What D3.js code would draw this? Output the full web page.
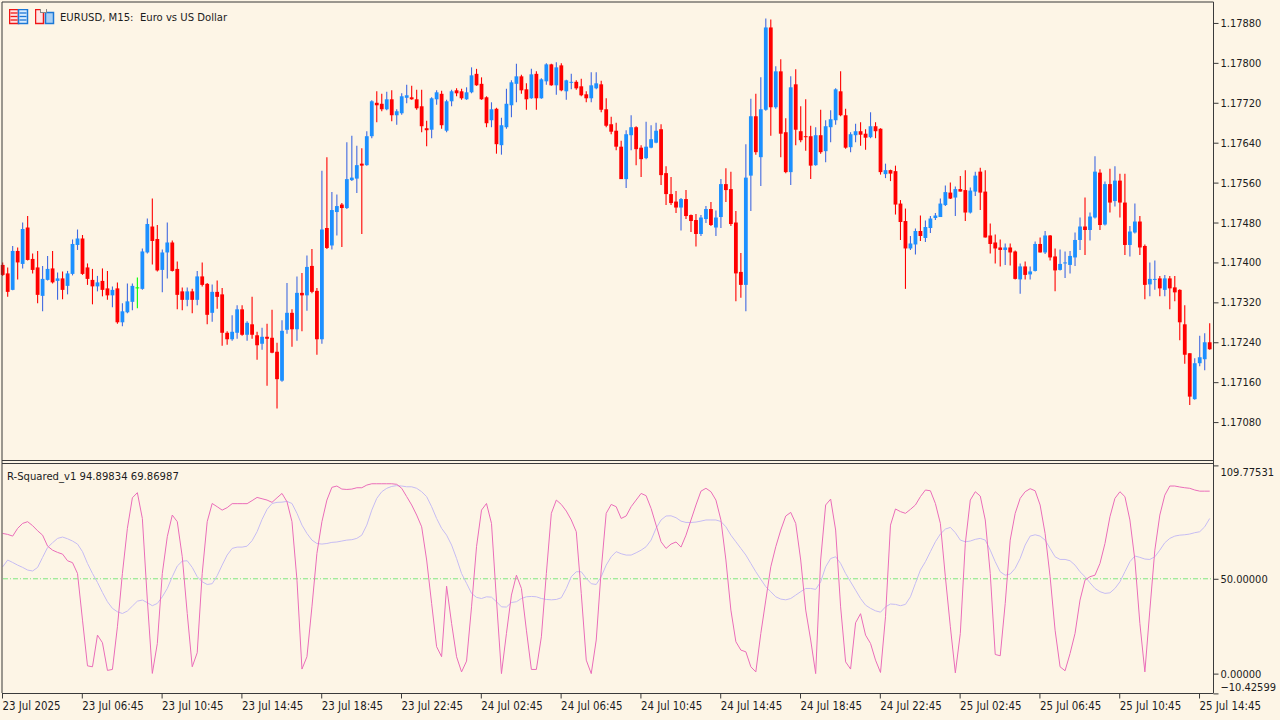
<!DOCTYPE html>
<html>
<head>
<meta charset="utf-8">
<title>EURUSD M15</title>
<script src="https://cdn.jsdelivr.net/npm/d3@7"></script>
<style>
	html, body { margin: 0; padding: 0; background: #FDF5E6; }
	svg { display: block; }
	text { font-family: "DejaVu Sans Condensed", "DejaVu Sans", sans-serif; fill: #1c1c1c; }
</style>
</head>
<body>
<div id="vizContainer"></div>
<script>
let w = 1280;
let h = 720;

let opens = [
	1.17395,1.17378,1.17345,1.17423,1.17397,1.17470,1.17407,1.17390,1.17333,1.17365,
	1.17388,1.17363,1.17368,1.17353,1.17377,1.17435,1.17448,1.17390,1.17365,1.17352,
	1.17363,1.17348,1.17334,1.17348,1.17280,1.17300,1.17321,1.17350,1.17347,1.17420,
	1.17472,1.17447,1.17385,1.17420,1.17440,1.17387,1.17342,1.17325,1.17342,1.17325,
	1.17372,1.17357,1.17299,1.17341,1.17336,1.17259,1.17246,1.17259,1.17306,1.17255,
	1.17276,1.17254,1.17237,1.17251,1.17249,1.17221,1.17163,1.17265,1.17299,1.17266,
	1.17339,1.17334,1.17393,1.17343,1.17246,1.17469,1.17434,1.17501,1.17516,1.17509,
	1.17565,1.17568,1.17598,1.17595,1.17653,1.17720,1.17718,1.17707,1.17727,1.17695,
	1.17699,1.17730,1.17731,1.17727,1.17713,1.17669,1.17666,1.17727,1.17738,1.17664,
	1.17723,1.17745,1.17743,1.17727,1.17741,1.17778,1.17758,1.17731,1.17685,1.17708,
	1.17635,1.17671,1.17715,1.17758,1.17773,1.17747,1.17729,1.17778,1.17729,1.17763,
	1.17797,1.17755,1.17795,1.17743,1.17760,1.17762,1.17753,1.17737,1.17729,1.17749,
	1.17757,1.17707,1.17677,1.17664,1.17632,1.17567,1.17655,1.17671,1.17630,1.17609,
	1.17630,1.17640,1.17667,1.17579,1.17537,1.17522,1.17510,1.17527,1.17495,1.17485,
	1.17457,1.17487,1.17507,1.17470,1.17491,1.17557,1.17547,1.17480,1.17381,1.17355,
	1.17574,1.17693,1.17611,1.17706,1.17871,1.17711,1.17783,1.17661,1.17581,1.17757,
	1.17663,1.17653,1.17653,1.17595,1.17655,1.17623,1.17671,1.17685,1.17743,1.17695,
	1.17631,1.17655,1.17663,1.17658,1.17651,1.17673,1.17668,1.17577,1.17585,1.17583,
	1.17518,1.17483,1.17428,1.17436,1.17463,1.17449,1.17469,1.17489,1.17491,1.17515,
	1.17540,1.17530,1.17547,1.17545,1.17500,1.17542,1.17582,1.17542,1.17454,1.17440,
	1.17430,1.17425,1.17430,1.17422,1.17366,1.17392,1.17376,1.17383,1.17437,1.17420,
	1.17454,1.17412,1.17385,1.17398,1.17395,1.17410,1.17445,1.17472,1.17465,1.17490,
	1.17580,1.17476,1.17557,1.17523,1.17564,1.17520,1.17435,1.17460,1.17482,1.17433,
	1.17356,1.17365,1.17368,1.17345,1.17368,1.17350,1.17345,1.17276,1.17218,1.17126,
	1.17198,1.17206,1.17240
];
let highs = [
	1.17400,1.17390,1.17433,1.17430,1.17480,1.17493,1.17418,1.17423,1.17393,1.17413,
	1.17423,1.17380,1.17382,1.17383,1.17446,1.17466,1.17455,1.17398,1.17387,1.17373,
	1.17388,1.17383,1.17352,1.17360,1.17318,1.17358,1.17358,1.17370,1.17428,1.17488,
	1.17528,1.17475,1.17426,1.17480,1.17444,1.17402,1.17350,1.17350,1.17347,1.17383,
	1.17400,1.17359,1.17356,1.17364,1.17349,1.17262,1.17294,1.17314,1.17314,1.17282,
	1.17331,1.17261,1.17269,1.17277,1.17305,1.17239,1.17284,1.17359,1.17306,1.17372,
	1.17379,1.17414,1.17427,1.17349,1.17584,1.17611,1.17541,1.17536,1.17519,1.17641,
	1.17654,1.17634,1.17629,1.17663,1.17725,1.17743,1.17738,1.17742,1.17745,1.17707,
	1.17739,1.17756,1.17754,1.17746,1.17746,1.17684,1.17731,1.17745,1.17744,1.17726,
	1.17746,1.17749,1.17748,1.17751,1.17791,1.17788,1.17771,1.17733,1.17721,1.17710,
	1.17690,1.17748,1.17765,1.17798,1.17776,1.17759,1.17788,1.17783,1.17769,1.17799,
	1.17798,1.17801,1.17799,1.17766,1.17778,1.17765,1.17768,1.17743,1.17781,1.17781,
	1.17764,1.17729,1.17692,1.17680,1.17644,1.17665,1.17695,1.17673,1.17635,1.17682,
	1.17675,1.17680,1.17677,1.17593,1.17571,1.17543,1.17529,1.17545,1.17496,1.17497,
	1.17495,1.17513,1.17521,1.17504,1.17567,1.17589,1.17582,1.17503,1.17419,1.17637,
	1.17728,1.17738,1.17771,1.17889,1.17887,1.17793,1.17807,1.17689,1.17773,1.17787,
	1.17713,1.17727,1.17674,1.17671,1.17706,1.17685,1.17705,1.17749,1.17783,1.17708,
	1.17661,1.17678,1.17681,1.17667,1.17701,1.17681,1.17669,1.17598,1.17586,1.17594,
	1.17525,1.17508,1.17453,1.17468,1.17494,1.17484,1.17493,1.17499,1.17528,1.17554,
	1.17560,1.17552,1.17573,1.17585,1.17550,1.17582,1.17590,1.17585,1.17478,1.17456,
	1.17446,1.17438,1.17438,1.17424,1.17398,1.17402,1.17392,1.17442,1.17450,1.17463,
	1.17455,1.17428,1.17426,1.17422,1.17423,1.17460,1.17490,1.17530,1.17500,1.17613,
	1.17587,1.17562,1.17588,1.17593,1.17578,1.17578,1.17473,1.17518,1.17493,1.17436,
	1.17400,1.17404,1.17373,1.17375,1.17373,1.17373,1.17346,1.17314,1.17218,1.17208,
	1.17253,1.17258,1.17278
];
let lows = [
	1.17373,1.17331,1.17344,1.17366,1.17388,1.17404,1.17378,1.17318,1.17302,1.17364,
	1.17358,1.17325,1.17326,1.17336,1.17374,1.17425,1.17375,1.17355,1.17316,1.17342,
	1.17332,1.17325,1.17310,1.17277,1.17272,1.17298,1.17304,1.17308,1.17345,1.17418,
	1.17396,1.17382,1.17340,1.17368,1.17382,1.17306,1.17304,1.17312,1.17298,1.17314,
	1.17352,1.17276,1.17281,1.17307,1.17233,1.17235,1.17243,1.17247,1.17253,1.17243,
	1.17247,1.17205,1.17225,1.17153,1.17218,1.17107,1.17161,1.17257,1.17231,1.17243,
	1.17262,1.17303,1.17338,1.17215,1.17237,1.17427,1.17426,1.17454,1.17431,1.17507,
	1.17563,1.17539,1.17457,1.17594,1.17649,1.17681,1.17703,1.17705,1.17683,1.17676,
	1.17696,1.17719,1.17726,1.17706,1.17661,1.17633,1.17649,1.17716,1.17668,1.17661,
	1.17713,1.17733,1.17726,1.17726,1.17739,1.17754,1.17726,1.17671,1.17671,1.17618,
	1.17616,1.17668,1.17691,1.17721,1.17738,1.17706,1.17728,1.17706,1.17728,1.17756,
	1.17754,1.17736,1.17743,1.17726,1.17747,1.17746,1.17733,1.17721,1.17721,1.17747,
	1.17701,1.17671,1.17657,1.17625,1.17567,1.17549,1.17625,1.17595,1.17571,1.17607,
	1.17629,1.17639,1.17555,1.17515,1.17515,1.17499,1.17464,1.17487,1.17461,1.17432,
	1.17453,1.17479,1.17473,1.17453,1.17469,1.17521,1.17473,1.17322,1.17329,1.17302,
	1.17503,1.17616,1.17553,1.17704,1.17654,1.17708,1.17611,1.17579,1.17555,1.17635,
	1.17641,1.17624,1.17567,1.17594,1.17618,1.17601,1.17641,1.17676,1.17693,1.17628,
	1.17621,1.17641,1.17634,1.17626,1.17649,1.17649,1.17576,1.17569,1.17563,1.17496,
	1.17445,1.17347,1.17425,1.17416,1.17443,1.17441,1.17459,1.17485,1.17491,1.17513,
	1.17527,1.17493,1.17542,1.17483,1.17498,1.17533,1.17505,1.17450,1.17418,1.17398,
	1.17392,1.17395,1.17394,1.17366,1.17337,1.17366,1.17366,1.17382,1.17420,1.17417,
	1.17404,1.17342,1.17384,1.17369,1.17378,1.17393,1.17425,1.17415,1.17444,1.17488,
	1.17465,1.17474,1.17500,1.17512,1.17490,1.17415,1.17412,1.17458,1.17415,1.17326,
	1.17332,1.17345,1.17332,1.17332,1.17306,1.17322,1.17244,1.17197,1.17114,1.17125,
	1.17192,1.17184,1.17225
];
let closes = [
	1.17375,1.17341,1.17423,1.17400,1.17467,1.17405,1.17385,1.17335,1.17367,1.17387,
	1.17360,1.17368,1.17345,1.17378,1.17437,1.17448,1.17377,1.17367,1.17352,1.17360,
	1.17345,1.17334,1.17345,1.17280,1.17302,1.17322,1.17353,1.17350,1.17422,1.17477,
	1.17443,1.17384,1.17420,1.17440,1.17383,1.17335,1.17325,1.17342,1.17325,1.17372,
	1.17355,1.17295,1.17341,1.17331,1.17259,1.17246,1.17261,1.17306,1.17255,1.17279,
	1.17255,1.17234,1.17251,1.17247,1.17219,1.17166,1.17263,1.17299,1.17266,1.17339,
	1.17334,1.17391,1.17341,1.17246,1.17466,1.17429,1.17505,1.17513,1.17509,1.17567,
	1.17570,1.17595,1.17594,1.17653,1.17723,1.17715,1.17707,1.17727,1.17695,1.17703,
	1.17733,1.17735,1.17727,1.17709,1.17673,1.17665,1.17729,1.17741,1.17675,1.17723,
	1.17743,1.17739,1.17729,1.17741,1.17775,1.17755,1.17727,1.17679,1.17707,1.17637,
	1.17675,1.17718,1.17761,1.17773,1.17745,1.17727,1.17777,1.17729,1.17767,1.17797,
	1.17755,1.17791,1.17745,1.17765,1.17762,1.17749,1.17735,1.17729,1.17755,1.17759,
	1.17706,1.17674,1.17662,1.17632,1.17567,1.17657,1.17671,1.17627,1.17607,1.17632,
	1.17647,1.17664,1.17575,1.17537,1.17519,1.17510,1.17527,1.17493,1.17483,1.17457,
	1.17490,1.17507,1.17475,1.17490,1.17557,1.17545,1.17477,1.17378,1.17355,1.17570,
	1.17693,1.17621,1.17707,1.17871,1.17711,1.17783,1.17658,1.17581,1.17751,1.17666,
	1.17645,1.17651,1.17594,1.17655,1.17621,1.17673,1.17687,1.17747,1.17695,1.17630,
	1.17657,1.17663,1.17656,1.17650,1.17673,1.17663,1.17581,1.17585,1.17578,1.17516,
	1.17481,1.17428,1.17438,1.17463,1.17453,1.17471,1.17488,1.17494,1.17518,1.17541,
	1.17528,1.17547,1.17542,1.17500,1.17544,1.17574,1.17540,1.17450,1.17437,1.17428,
	1.17425,1.17430,1.17420,1.17367,1.17392,1.17375,1.17382,1.17437,1.17420,1.17454,
	1.17410,1.17384,1.17397,1.17400,1.17413,1.17445,1.17472,1.17465,1.17492,1.17582,
	1.17475,1.17557,1.17520,1.17564,1.17520,1.17435,1.17462,1.17482,1.17430,1.17355,
	1.17367,1.17367,1.17348,1.17368,1.17348,1.17340,1.17280,1.17215,1.17131,1.17198,
	1.17210,1.17240,1.17226
];

// r-squared indicator, one value per bar
let rSquared = [
	73.9,73.4,72.5,76.6,79.2,80.1,78.0,75.3,73.0,67.2,
	65.1,63.9,63.0,59.5,58.5,52.8,28.2,4.1,3.6,20.3,
	16.3,1.7,2.2,24.7,52.8,76.6,92.7,95.4,81.8,38.8,
	0.1,15.9,52.8,72.2,83.6,80.1,61.6,31.7,3.6,11.0,
	52.8,80.1,89.7,88.0,86.2,87.5,89.6,89.6,89.6,89.6,
	91.2,92.9,92.2,91.5,90.3,92.7,95.0,90.6,80.1,49.3,
	2.4,8.9,35.2,63.4,80.1,91.5,98.2,98.9,97.3,97.1,
	97.3,98.0,98.0,99.4,100.1,100.1,100.1,100.1,100.1,99.8,
	97.7,93.3,88.9,83.6,77.4,59.9,37.0,14.2,8.9,46.1,
	26.5,8.9,0.9,6.6,35.2,66.9,86.2,89.7,79.2,38.8,
	0.0,21.2,41.4,51.9,44.9,22.9,2.2,2.2,19.4,52.8,
	84.5,91.5,89.2,85.7,81.0,74.8,42.3,7.1,0.0,17.7,
	54.6,84.5,89.2,88.0,81.8,83.1,88.0,91.5,95.0,93.8,
	87.1,78.3,69.5,66.0,68.3,69.4,66.7,73.0,81.0,88.9,
	96.2,97.7,95.9,91.5,81.0,59.9,33.5,16.8,12.4,11.5,
	3.6,0.9,21.2,38.8,56.3,66.9,75.7,83.1,85.0,79.2,
	59.9,33.5,17.7,0.0,59.9,88.9,92.0,75.7,35.2,6.2,
	2.4,26.8,31.6,20.3,15.9,7.1,0.6,30.0,78.3,86.8,
	85.4,84.5,86.6,88.9,93.3,96.8,96.4,89.7,79.2,51.1,
	24.7,0.4,21.2,68.6,91.5,95.9,93.6,81.0,52.8,10.1,
	9.4,37.0,70.4,84.5,92.4,95.9,97.5,96.4,88.9,73.9,
	51.1,22.9,3.6,1.5,10.6,21.2,38.8,49.3,51.1,51.9,
	58.1,68.6,82.7,92.4,95.9,93.3,81.0,59.9,26.5,0.9,
	33.5,65.1,83.6,94.1,98.9,98.9,98.4,98.0,97.7,96.8,
	96.2,96.2,96.2
];
let signalLine = [
	56.3,59.9,58.6,57.2,56.0,54.6,54.1,56.0,61.3,66.5,
	69.0,71.3,72.0,71.1,69.9,68.3,64.3,58.1,52.8,48.1,
	42.8,37.9,34.4,32.6,31.7,33.0,35.6,38.2,38.8,37.4,
	35.8,37.0,40.5,44.9,51.1,56.7,59.3,59.5,56.0,51.1,
	48.4,47.0,47.4,51.6,57.2,62.5,66.0,66.7,66.7,67.2,
	70.1,74.8,81.3,86.6,89.7,90.3,90.4,90.8,89.7,84.5,
	78.3,73.9,70.4,68.6,68.3,68.6,69.2,69.4,69.9,70.4,
	70.6,71.3,73.0,78.3,86.2,92.4,95.9,97.7,98.7,99.1,
	98.9,98.5,98.5,97.7,95.9,93.3,88.0,81.8,76.6,73.0,
	67.8,60.7,52.8,47.6,42.3,40.2,39.6,40.5,40.3,37.9,
	35.2,35.1,37.5,37.9,39.6,40.5,40.7,40.5,39.6,39.1,
	38.9,39.1,40.0,44.9,51.1,53.7,53.7,50.2,47.4,47.0,
	51.1,57.2,61.6,64.3,63.2,62.5,62.5,63.7,65.1,66.9,
	70.4,76.6,81.0,83.1,83.2,82.2,80.4,79.7,79.7,79.9,
	80.4,81.0,81.0,81.0,80.2,77.4,73.0,69.5,66.0,62.5,
	58.1,53.7,49.7,45.8,43.2,40.5,39.3,38.9,39.6,41.4,
	43.2,44.9,44.9,44.4,48.4,56.3,60.7,61.6,58.1,52.8,
	48.4,44.0,39.6,36.1,34.4,33.1,32.4,35.2,36.7,36.5,
	35.8,36.5,40.5,47.6,54.6,59.0,64.3,69.5,73.6,76.2,
	77.1,74.3,70.4,69.5,69.9,70.8,71.3,70.4,65.1,59.0,
	53.7,51.9,52.5,55.5,60.7,67.8,72.5,73.2,72.5,70.4,
	66.0,61.6,60.2,60.2,59.5,57.2,53.7,51.1,47.9,44.9,
	43.2,42.3,42.6,44.9,48.4,53.7,59.0,62.0,61.3,60.4,
	60.2,61.6,65.1,69.0,71.3,72.5,73.0,73.2,73.6,74.3,
	74.8,77.4,81.8
];

let priceTicks = [1.1788, 1.178, 1.1772, 1.1764, 1.1756, 1.1748, 1.174, 1.1732, 1.1724, 1.1716, 1.1708];
let indicatorTicks = [109.77531, 50, 0, -10.42599];
let timeTickBars = [0, 16, 32, 48, 64, 80, 96, 112, 128, 144, 160, 176, 192, 208, 224, 240];
let timeTickLabels = [
	"23 Jul 2025", "23 Jul 06:45", "23 Jul 10:45", "23 Jul 14:45", "23 Jul 18:45", "23 Jul 22:45",
	"24 Jul 02:45", "24 Jul 06:45", "24 Jul 10:45", "24 Jul 14:45", "24 Jul 18:45", "24 Jul 22:45",
	"25 Jul 02:45", "25 Jul 06:45", "25 Jul 10:45", "25 Jul 14:45"
];

let viz = d3.select('#vizContainer').append('svg')
	.attr('width', w)
	.attr('height', h)
	.style('background-color', '#FDF5E6')
	;

// the reference is a slightly soft screenshot
viz.append('filter').attr('id', 'soft')
	.attr('filterUnits', 'userSpaceOnUse')
	.attr('x', 0).attr('y', 0)
	.attr('width', w).attr('height', h)
	.append('feGaussianBlur').attr('stdDeviation', 0.5);

let xScale = d3.scaleLinear().domain([0, 242]).range([2.7, 1209.7]);
let yPrice = d3.scaleLinear().domain([1.17004, 1.17922]).range([460, 2]);
let yInd = d3.scaleLinear().domain([-10.42599, 109.77531]).range([693.4, 465.4]);

let marks = viz.append('g').attr('filter', 'url(#soft)');

// candles
let candles = marks.selectAll('.candle').data(opens).enter().append('g').attr('class', 'candle');

function wickColor(d, i){
	if (closes[i] > d) return '#4169E1';
	if (closes[i] < d) return '#FF0000';
	return '#00FF00';
}
function bodyColor(d, i){
	if (closes[i] > d) return '#1E90FF';
	if (closes[i] < d) return '#FF0000';
	return '#00FF00';
}

candles.append('line')
	.attr('x1', function(d, i){ return xScale(i) })
	.attr('x2', function(d, i){ return xScale(i) })
	.attr('y1', function(d, i){ return yPrice(highs[i]) })
	.attr('y2', function(d, i){ return yPrice(lows[i]) })
	.attr('stroke', wickColor)
	.attr('stroke-width', 1.1)
	;

candles.append('rect')
	.attr('x', function(d, i){ return xScale(i) - 1.9 })
	.attr('width', 3.8)
	.attr('y', function(d, i){ return yPrice(Math.max(d, closes[i])) })
	.attr('height', function(d, i){ return Math.max(Math.abs(yPrice(d) - yPrice(closes[i])), 1) })
	.attr('fill', bodyColor)
	;

// 50 level and the two indicator lines
marks.append('line')
	.attr('x1', 3).attr('x2', 1213)
	.attr('y1', yInd(50)).attr('y2', yInd(50))
	.attr('stroke', '#7FE87F')
	.attr('stroke-width', 1)
	.attr('stroke-dasharray', '5,2,1,2');

let indLine = d3.line()
	.x(function(d, i){ return xScale(i) })
	.y(function(d){ return yInd(d) });

marks.append('path').attr('d', indLine(signalLine))
	.attr('fill', 'none').attr('stroke', '#C6BCF3').attr('stroke-width', 1);
marks.append('path').attr('d', indLine(rSquared))
	.attr('fill', 'none').attr('stroke', '#EA6DB9').attr('stroke-width', 1);

// frame
let frame = viz.append('g').attr('stroke', '#3a3a3a').attr('filter', 'url(#soft)');
frame.append('line').attr('x1', 2).attr('x2', 2).attr('y1', 2).attr('y2', 693);
frame.append('line').attr('x1', 2).attr('x2', 1213.5).attr('y1', 2).attr('y2', 2);
frame.append('line').attr('x1', 1213.5).attr('x2', 1213.5).attr('y1', 2).attr('y2', 693);
frame.append('line').attr('x1', 2).attr('x2', 1213.5).attr('y1', 460.5).attr('y2', 460.5);
frame.append('line').attr('x1', 2).attr('x2', 1213.5).attr('y1', 463.5).attr('y2', 463.5);
frame.append('line').attr('x1', 2).attr('x2', 1213.5).attr('y1', 693.5).attr('y2', 693.5);

// axes
let priceAxis = d3.axisRight(yPrice)
	.tickValues(priceTicks)
	.tickSize(5)
	.tickPadding(2)
	.tickFormat(d3.format('.5f'));

let indAxis = d3.axisRight(yInd)
	.tickValues(indicatorTicks)
	.tickSize(5)
	.tickPadding(2)
	.tickFormat(d3.format('.5f'));

let timeAxis = d3.axisBottom(xScale)
	.tickValues(timeTickBars)
	.tickSize(5)
	.tickPadding(3)
	.tickFormat(function(d, i){ return timeTickLabels[i] });

function styleAxis(g){
	g.select('.domain').remove();
	g.selectAll('.tick line').attr('stroke', '#3a3a3a');
	g.selectAll('.tick text').attr('font-family', null).attr('font-size', 11);
}

viz.append('g').attr('transform', 'translate(1213.5,0)').call(priceAxis).call(styleAxis);

viz.append('g').attr('transform', 'translate(1213.5,0)').call(indAxis).call(styleAxis)
	.selectAll('.tick text')
	.attr('dy', function(d){
		if (d > 100) return '0.9em';
		if (d < 0) return '-0.3em';
		return '0.32em';
	});

viz.append('g').attr('transform', 'translate(-0.7,693.5)').call(timeAxis).call(styleAxis)
	.selectAll('.tick text')
	.attr('text-anchor', 'start')
	.attr('font-size', 11.4)
	.attr('dy', '0.75em');

// legends
viz.append('text').attr('x', 60).attr('y', 21).attr('font-size', 11.2)
	.attr('xml:space', 'preserve').text('EURUSD, M15:  Euro vs US Dollar');
viz.append('text').attr('x', 7).attr('y', 480).attr('font-size', 11.2)
	.text('R-Squared_v1 94.89834 69.86987');

// toolbar icons
let icon1 = viz.append('g').attr('transform', 'translate(9.5,9.5)').attr('filter', 'url(#soft)');
icon1.append('rect').attr('width', 9).attr('height', 14).attr('fill', '#FFE3E3').attr('stroke', '#F01818').attr('stroke-width', 1.5);
icon1.append('rect').attr('x', 9).attr('width', 9).attr('height', 14).attr('fill', '#D8ECFF').attr('stroke', '#1E78D6').attr('stroke-width', 1.5);
[3.5, 7, 10.5].forEach(function(y){
	icon1.append('line').attr('x1', 1).attr('x2', 8).attr('y1', y).attr('y2', y).attr('stroke', '#F01818').attr('stroke-width', 1.3);
	icon1.append('line').attr('x1', 10).attr('x2', 17).attr('y1', y).attr('y2', y).attr('stroke', '#1E78D6').attr('stroke-width', 1.3);
});

let icon2 = viz.append('g').attr('transform', 'translate(35.5,9.5)').attr('filter', 'url(#soft)');
icon2.append('rect').attr('width', 8).attr('height', 14).attr('fill', '#FFE3E3').attr('stroke', '#F01818').attr('stroke-width', 1.5);
icon2.append('rect').attr('x', 10).attr('y', 3).attr('width', 8).attr('height', 11).attr('fill', '#A9D0F5').attr('stroke', '#1E78D6').attr('stroke-width', 1.5);
icon2.append('rect').attr('x', 5).attr('y', -1).attr('width', 6).attr('height', 4).attr('fill', '#FDF5E6').attr('stroke', '#888');

</script>
</body>
</html>
